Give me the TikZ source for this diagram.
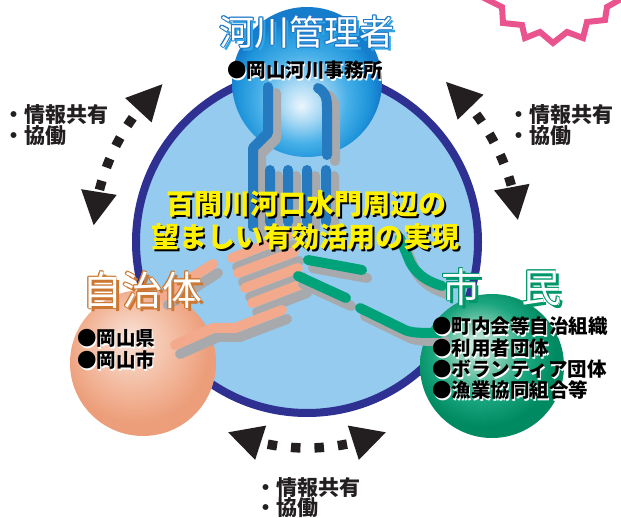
\documentclass[tikz,border=0pt]{standalone}
\usepackage{fontspec}
\newfontfamily\jp{Noto Sans CJK JP}
\usetikzlibrary{calc}

\definecolor{ringnavy}{RGB}{46,49,146}
\definecolor{ringfill}{RGB}{148,203,238}
\definecolor{handblue}{RGB}{38,122,192}
\definecolor{handpeach}{RGB}{243,170,140}
\definecolor{handgreen}{RGB}{0,162,122}
\definecolor{handshade}{RGB}{167,169,172}
\definecolor{burst}{RGB}{233,84,142}
\definecolor{txtdark}{RGB}{35,31,32}
\definecolor{capyellow}{RGB}{255,241,0}
\definecolor{tblue}{RGB}{50,165,228}
\definecolor{tbluedark}{RGB}{30,120,200}
\definecolor{tbrown}{RGB}{205,120,50}
\definecolor{tgreen}{RGB}{0,150,105}

% sphere shadings (highlight slightly off centre)
\pgfdeclareradialshading{bluesphere}{\pgfpoint{-2bp}{-8bp}}{%
  color(0bp)=(rgb,255:red,235;green,246;blue,253);
  color(7bp)=(rgb,255:red,165;green,215;blue,243);
  color(15bp)=(rgb,255:red,70;green,175;blue,232);
  color(22bp)=(rgb,255:red,30;green,148;blue,218);
  color(25bp)=(rgb,255:red,22;green,125;blue,205);
  color(50bp)=(rgb,255:red,22;green,125;blue,205)}
\pgfdeclareradialshading{peachsphere}{\pgfpoint{-5bp}{9bp}}{%
  color(0bp)=(rgb,255:red,248;green,226;blue,216);
  color(10bp)=(rgb,255:red,245;green,200;blue,178);
  color(20bp)=(rgb,255:red,240;green,172;blue,140);
  color(25bp)=(rgb,255:red,236;green,158;blue,122);
  color(50bp)=(rgb,255:red,236;green,158;blue,122)}
\pgfdeclareradialshading{greensphere}{\pgfpoint{-6bp}{8bp}}{%
  color(0bp)=(rgb,255:red,214;green,238;blue,230);
  color(8bp)=(rgb,255:red,130;green,205;blue,178);
  color(17bp)=(rgb,255:red,25;green,165;blue,125);
  color(25bp)=(rgb,255:red,0;green,138;blue,98);
  color(50bp)=(rgb,255:red,0;green,138;blue,98)}

% text with a drop shadow
\newcommand\dtext[6]{%
  \node[#4] (#1s) at ($(#2)+(#3)$) {#6};
  \node[#5] (#1) at (#2) {#6};}
% white heading with an outline and a coloured drop shadow
\newcommand\otext[7]{%
  \node[#7, text=#5] (#1s) at ($(#2)+(3,-3)$) {#6};
  \foreach \a in {0,45,...,315}
    \node[#7, text=#4] (#1o\a) at ($(#2)+(\a:#3)$) {#6};
  \node[#7, text=white] (#1) at (#2) {#6};}

\begin{document}
\begin{tikzpicture}[x=1pt,y=1pt,
  sphere/.style={circle, shade, inner sep=0pt, draw=none},
  hand/.style={line width=10pt, line cap=round, line join=round},
  dotline/.style={line width=9.5pt, txtdark, dash pattern=on 9.5pt off 14pt},
  tipfill/.style={fill=txtdark},
  headfont/.style={inner sep=0pt, font=\jp\fontsize{35}{38}\selectfont},
  bigheadfont/.style={inner sep=0pt, font=\jp\fontsize{40}{42}\selectfont},
  subfont/.style={inner sep=0pt, font=\jp\bfseries\fontsize{19.5}{21}\selectfont},
  capfont/.style={inner sep=0pt, font=\jp\bfseries\fontsize{28}{30}\selectfont},
  sidefont/.style={inner sep=0pt, anchor=west, text=txtdark, font=\jp\bfseries\fontsize{21}{22}\selectfont}]
\useasboundingbox (0,0) rectangle (621,517);

% jagged badge edge in the corner
\begin{scope}
  \clip (0,0) rectangle (621,517);
  \draw[burst, line width=6pt, line join=miter]
    (478,522) -- (502,510) -- (503,494) -- (522,492) -- (525,479) -- (540,485)
    -- (553,474) -- (567,485) -- (583,479) -- (587,495) -- (605,497) -- (607,510) -- (628,522);
\end{scope}

% central circle
\node[circle, draw=ringnavy, line width=8pt, fill=ringfill, minimum size=342pt, inner sep=0pt] (ring) at (307,275) {};
\coordinate (ctr) at (307,275);

% the three partners
\node[sphere, shading=bluesphere, minimum size=150pt] (river) at (307,435) {};
\node[sphere, shading=peachsphere, minimum size=146pt] (city) at (143,154) {};
\node[sphere, shading=greensphere, minimum size=144pt] (citizen) at (492,151) {};

% hands
\def\bluehand{(268,430) -- (268,384) -- (253,369) -- (253,290)
  (318,429) .. controls (325,425) and (327,420) .. (327,410) -- (327,362)
  (270,347) -- (270,295) (288,347) -- (288,295) (307,347) -- (307,295) (326,347) -- (326,295)}
\def\peachhand{(163,221) -- (213,253)
  (232,259) -- (288,281) (238,244) -- (294,265) (245,229) -- (298,249) (252,214) -- (302,233)
  (175,172) -- (213,189) -- (235,189) -- (282,207)}
\def\greenhand{(400,279) -- (410,255) .. controls (418,240) and (430,235) .. (442,231)
  (308,257) -- (362,247) (298,241) -- (346,219)
  (360,209) -- (405,187) .. controls (412,184) and (420,184) .. (440,184)}

\draw[hand, handshade, shift={(8,-6)}] \bluehand;
\draw[hand, handblue] \bluehand;
\draw[hand, handshade, shift={(5,-9)}] \peachhand;
\draw[hand, handpeach] \peachhand;
\draw[hand, handshade, shift={(5,-8)}] \greenhand;
\draw[hand, handgreen] \greenhand;

% exchange arrows (left, right, bottom)
\coordinate (lTt) at ($(ctr)+(132.5:214)$);
\coordinate (lTb) at ($(ctr)+(142:214)$);
\coordinate (lDs) at ($(ctr)+(144.5:214)$);
\coordinate (lBb) at ($(ctr)+(166.5:214)$);
\coordinate (lBt) at ($(ctr)+(175.5:214)$);
\draw[dotline] (lDs) arc[start angle=144.5, end angle=165.9, radius=214];
\fill[tipfill] ($(lTb)!18pt!90:(lTt)$) -- (lTt) -- ($(lTb)!18pt!-90:(lTt)$) -- cycle;
\fill[tipfill] ($(lBb)!18pt!90:(lBt)$) -- (lBt) -- ($(lBb)!18pt!-90:(lBt)$) -- cycle;

\coordinate (rTt) at ($(ctr)+(49:212)$);
\coordinate (rTb) at ($(ctr)+(39.5:212)$);
\coordinate (rDs) at ($(ctr)+(37:212)$);
\coordinate (rBb) at ($(ctr)+(15:212)$);
\coordinate (rBt) at ($(ctr)+(6:212)$);
\draw[dotline] (rDs) arc[start angle=37, end angle=15.5, radius=212];
\fill[tipfill] ($(rTb)!18pt!90:(rTt)$) -- (rTt) -- ($(rTb)!18pt!-90:(rTt)$) -- cycle;
\fill[tipfill] ($(rBb)!18pt!90:(rBt)$) -- (rBt) -- ($(rBb)!18pt!-90:(rBt)$) -- cycle;

\coordinate (bLt) at ($(ctr)+(247.5:206)$);
\coordinate (bLb) at ($(ctr)+(257:206)$);
\coordinate (bDs) at ($(ctr)+(259:206)$);
\coordinate (bRb) at ($(ctr)+(283:206)$);
\coordinate (bRt) at ($(ctr)+(292.5:206)$);
\draw[dotline] (bDs) arc[start angle=259, end angle=281.2, radius=206];
\fill[tipfill] ($(bLb)!18pt!90:(bLt)$) -- (bLt) -- ($(bLb)!18pt!-90:(bLt)$) -- cycle;
\fill[tipfill] ($(bRb)!18pt!90:(bRt)$) -- (bRt) -- ($(bRb)!18pt!-90:(bRt)$) -- cycle;

% headings
\otext{hRiver}{307,485}{1}{tbluedark}{tblue}{河川管理者}{headfont}
\otext{hCity}{142,227}{0.8}{tbrown}{tbrown}{自治体}{bigheadfont}
\otext{hCitizen}{501,230}{0.8}{tgreen}{tgreen}{市　民}{bigheadfont}

% member lists
\dtext{mRiver}{305,447}{1.2,-2.5}{subfont, text=white}{subfont, text=black}{●岡山河川事務所}
\dtext{mCity1}{77,179}{1.2,-2.5}{subfont, anchor=west, text=white}{subfont, anchor=west, text=black}{●岡山県}
\dtext{mCity2}{77,157}{1.2,-2.5}{subfont, anchor=west, text=white}{subfont, anchor=west, text=black}{●岡山市}
\dtext{mCit1}{432,191}{1.2,-2.5}{subfont, anchor=west, text=white}{subfont, anchor=west, text=black}{●町内会等自治組織}
\dtext{mCit2}{432,169}{1.2,-2.5}{subfont, anchor=west, text=white}{subfont, anchor=west, text=black}{●利用者団体}
\dtext{mCit3}{432,148}{1.2,-2.5}{subfont, anchor=west, text=white}{subfont, anchor=west, text=black}{●ボランティア団体}
\dtext{mCit4}{432,127}{1.2,-2.5}{subfont, anchor=west, text=white}{subfont, anchor=west, text=black}{●漁業協同組合等}

% shared goal
\dtext{goal1}{306,313}{2,-2}{capfont, text=black}{capfont, text=capyellow}{百間川河口水門周辺の}
\dtext{goal2}{305,280}{2,-2}{capfont, text=black}{capfont, text=capyellow}{望ましい有効活用の実現}

% arrow labels
\node[sidefont] (lL1) at (3,402) {・情報共有};
\node[sidefont] (lL2) at (3,381) {・協働};
\node[sidefont] (rL1) at (508,402) {・情報共有};
\node[sidefont] (rL2) at (508,381) {・協働};
\node[sidefont] (bL1) at (255,29) {・情報共有};
\node[sidefont] (bL2) at (255,9) {・協働};
\end{tikzpicture}
\end{document}
